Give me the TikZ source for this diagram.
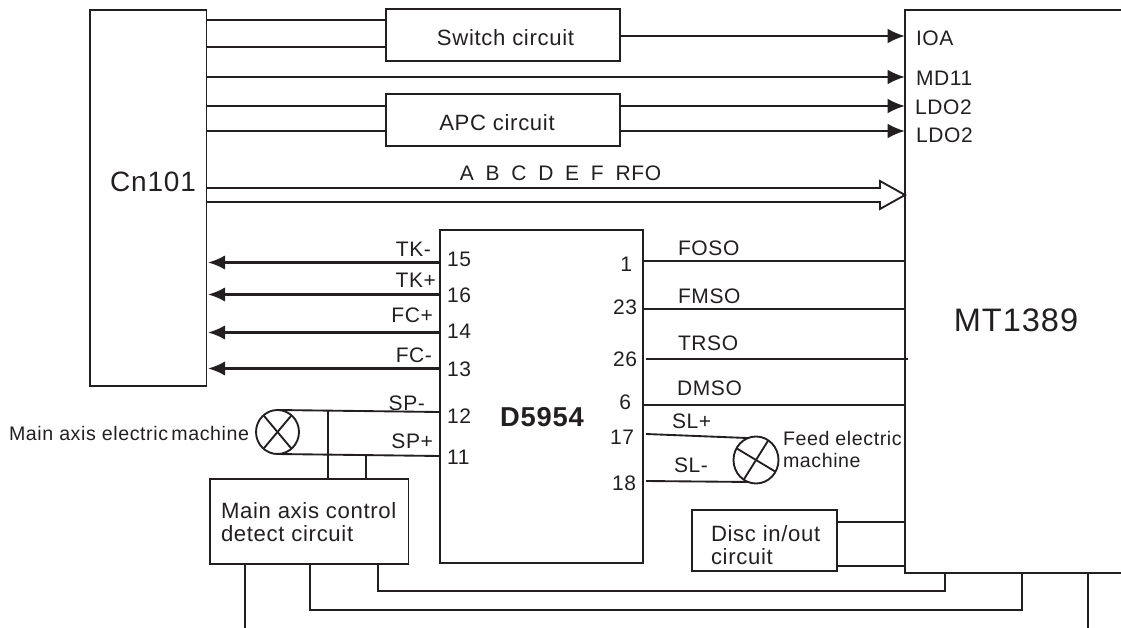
\documentclass[tikz,border=0pt]{standalone}
\usepackage{fontspec}
\setmainfont[LetterSpace=3]{Liberation Sans}
\usepackage{tikz}
\usetikzlibrary{arrows.meta}
\usetikzlibrary{shapes.geometric}
\definecolor{ink}{HTML}{231F20}

\begin{document}
\begin{tikzpicture}[
  x=0.75pt, y=-0.75pt,
  every node/.style={inner sep=0pt,outer sep=0pt,text=ink,font=\fontsize{15.75}{17}\selectfont},
  box/.style={draw=ink,line width=1.4pt},
  boxtxt/.style={font=\fontsize{16.6}{17.6}\selectfont},
  smalltxt/.style={font=\fontsize{14.7}{16}\selectfont},
  lab/.style={anchor=west},
  labr/.style={anchor=east},
  wire/.style={draw=ink,line width=1.4pt},
  sigr/.style={draw=ink,line width=1.6pt,-{Latex[length=13pt,width=11pt]}},
  sigl/.style={draw=ink,line width=2.1pt,shorten >=1pt,-{Latex[length=13pt,width=11pt]}},
  motor/.style={draw=ink,line width=1.4pt,ellipse}
]
  \useasboundingbox (0,0) rectangle (1121,628);

  \node[box,minimum width=87.4pt,minimum height=282pt] (cn) at (148.25,198) {};
  \node[box,minimum width=175.5pt,minimum height=39pt] (sw) at (503,35) {};
  \node[box,minimum width=175.5pt,minimum height=39pt] (apc) at (503,120) {};
  \node[box,minimum width=152.25pt,minimum height=249.75pt] (drv) at (541.5,396.5) {};
  \node[box,minimum width=148.9pt,minimum height=63.75pt] (det) at (309.25,521.5) {};
  \node[box,minimum width=108.75pt,minimum height=45.75pt] (disc) at (764.5,540.5) {};
  \node[minimum width=162pt,minimum height=422.25pt] (mt) at (1013,291.5) {};
  \node[motor,minimum width=32.25pt,minimum height=33pt] (mm) at (277.5,432) {};
  \node[motor,minimum width=33.75pt,minimum height=35.25pt] (mf) at (756,460) {};

  \node[font=\fontsize{21}{21}\selectfont] (cnt) at (153,182) {Cn101};
  \node[boxtxt] (swt) at (505.5,38) {Switch circuit};
  \node[boxtxt] (apct) at (497,123) {APC circuit};
  \node[font=\fontsize{20.5}{21}\selectfont\bfseries] (drvt) at (542,417) {D5954};
  \node[font=\fontsize{24.4}{25}\selectfont] (mtt) at (1016,320.5) {MT1389};
  \node[lab,boxtxt,align=left] (dett) at (221,522) {Main axis control\\detect circuit};
  \node[lab,boxtxt,align=left] (disct) at (711,545) {Disc in/out\\circuit};
  \node[lab,smalltxt,align=left] (mft) at (783,449.5) {Feed electric\\machine};
  \node[lab,smalltxt] (mmt) at (9,433) {Main axis electric\hspace{2.5pt}machine};

  \node[lab] (ioa) at (916,38) {IOA};
  \node[lab] (mdi) at (916,78) {MD11};
  \node[lab] (ldoa) at (915,107) {LDO2};
  \node[lab] (ldob) at (916,135) {LDO2};
  \node (bust) at (560.5,173) {\spaceskip=.56em A B C D E F RFO};

  \node[labr] (tkm) at (431,249) {TK-};
  \node[labr] (tkp) at (436,280) {TK+};
  \node[labr] (fcp) at (433,315) {FC+};
  \node[labr] (fcm) at (432,355) {FC-};
  \node[labr] (spm) at (425,403) {SP-};
  \node[labr] (spp) at (433,441) {SP+};
  \node[lab] (pa) at (447,259) {15};
  \node[lab] (pb) at (447,295) {16};
  \node[lab] (pc) at (447,331) {14};
  \node[lab] (pd) at (447,369) {13};
  \node[lab] (pe) at (447,416) {12};
  \node[lab] (pf) at (447,457) {11};

  \node[labr] (qa) at (632,264) {1};
  \node[labr] (qb) at (637,307) {23};
  \node[labr] (qc) at (637,359) {26};
  \node[labr] (qd) at (631,402) {6};
  \node[labr] (qe) at (634,437) {17};
  \node[labr] (qf) at (636,483) {18};
  \node[lab] (foso) at (678,248) {FOSO};
  \node[lab] (fmso) at (678,296) {FMSO};
  \node[lab] (trso) at (678,343) {TRSO};
  \node[lab] (dmso) at (677,388) {DMSO};
  \node[lab] (slp) at (672,421) {SL+};
  \node[lab] (slm) at (674,465) {SL-};

  \coordinate (ya) at (0,20);
  \coordinate (yb) at (0,47);
  \coordinate (yc) at (0,36);
  \coordinate (yd) at (0,77);
  \coordinate (ye) at (0,106);
  \coordinate (yf) at (0,131);
  \coordinate (busa) at (880,188);
  \coordinate (busb) at (880,181);
  \coordinate (busc) at (905,195);
  \coordinate (busd) at (880,209);
  \coordinate (buse) at (880,202);
  \coordinate (pia) at (0,262.5);
  \coordinate (pib) at (0,294.5);
  \coordinate (pic) at (0,332.5);
  \coordinate (pid) at (0,368.5);
  \coordinate (oua) at (0,261);
  \coordinate (oub) at (0,309);
  \coordinate (ouc) at (0,405);
  \coordinate (trsa) at (646,359);
  \coordinate (trsb) at (908,359);
  \coordinate (sla) at (646,434);
  \coordinate (slb) at (646,481);
  \coordinate (spa) at (440,412);
  \coordinate (spb) at (440,456);
  \coordinate (tapa) at (328,411);
  \coordinate (tapb) at (366.4,455);
  \coordinate (dia) at (0,522);
  \coordinate (dib) at (0,566);
  \coordinate (boa) at (945,591);
  \coordinate (bob) at (378,591);
  \coordinate (boc) at (310,610);
  \coordinate (bod) at (1022,610);
  \coordinate (boe) at (245,628);
  \coordinate (bof) at (1088,628);

  \draw[wire] (mt.north east)--(mt.north west)--(mt.south west)--(mt.south east);

  \draw[wire] (cn.east |- ya)--(sw.west |- ya);
  \draw[wire] (cn.east |- yb)--(sw.west |- yb);
  \draw[sigr] (sw.east |- yc)--(mt.west |- yc);
  \draw[sigr] (cn.east |- yd)--(mt.west |- yd);
  \draw[wire] (cn.east |- ye)--(apc.west |- ye);
  \draw[wire] (cn.east |- yf)--(apc.west |- yf);
  \draw[sigr] (apc.east |- ye)--(mt.west |- ye);
  \draw[sigr] (apc.east |- yf)--(mt.west |- yf);
  \draw[wire] (cn.east |- busa)--(busa)--(busb)--(busc)--(busd)--(buse)--(cn.east |- buse);

  \draw[sigl] (drv.west |- pia)--(cn.east |- pia);
  \draw[sigl] (drv.west |- pib)--(cn.east |- pib);
  \draw[sigl] (drv.west |- pic)--(cn.east |- pic);
  \draw[sigl] (drv.west |- pid)--(cn.east |- pid);

  \draw[wire] (drv.east |- oua)--(mt.west |- oua);
  \draw[wire] (drv.east |- oub)--(mt.west |- oub);
  \draw[wire] (trsa)--(trsb);
  \draw[wire] (drv.east |- ouc)--(mt.west |- ouc);
  \draw[wire] (sla)--(mf.110);
  \draw[wire] (slb)--(mf.250);
  \draw[wire] (mf.58)--(mf.238);
  \draw[wire] (mf.149)--(mf.329);

  \draw[wire] (mm.north)--(spa);
  \draw[wire] (mm.south)--(spb);
  \draw[wire] (mm.50)--(mm.230);
  \draw[wire] (mm.130)--(mm.310);
  \draw[wire] (tapa)--(tapa |- det.north);
  \draw[wire] (tapb)--(tapb |- det.north);

  \draw[wire] (disc.east |- dia)--(mt.west |- dia);
  \draw[wire] (disc.east |- dib)--(mt.west |- dib);

  \draw[wire] (boa |- mt.south)--(boa)--(bob)--(bob |- det.south);
  \draw[wire] (boc |- det.south)--(boc)--(bod)--(bod |- mt.south);
  \draw[wire] (boe |- det.south)--(boe);
  \draw[wire] (bof |- mt.south)--(bof);
\end{tikzpicture}
\end{document}
